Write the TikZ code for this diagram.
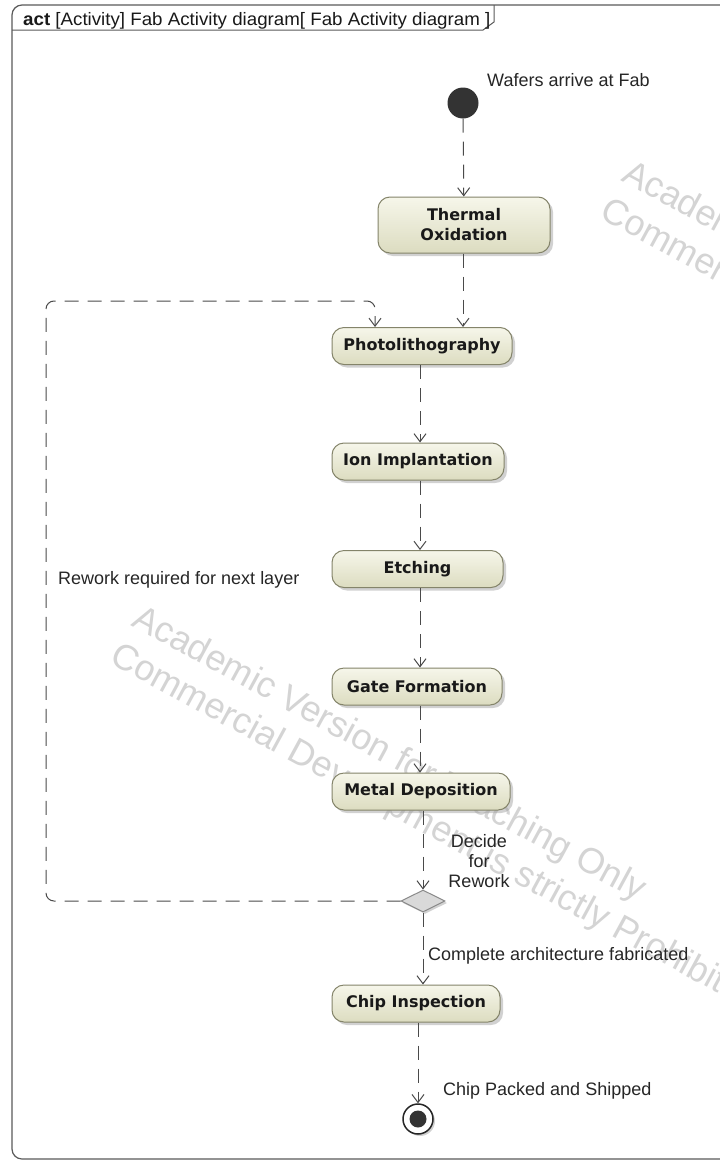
\documentclass[tikz,border=0pt]{standalone}
\usepackage{fontspec}
\usepackage{graphicx}
\setmainfont{Liberation Sans}
\newfontfamily\dejavu{DejaVu Sans}
\usetikzlibrary{arrows.meta,shapes.geometric,shadows}
\definecolor{boxtop}{HTML}{F6F6EA}
\definecolor{boxbot}{HTML}{DCDCC0}
\definecolor{boxline}{HTML}{84846A}
\definecolor{linecol}{HTML}{4A4A4A}
\definecolor{framecol}{HTML}{5A5A5A}
\definecolor{darkdot}{HTML}{333333}
\definecolor{decfill}{HTML}{D9D9D9}
\definecolor{decline}{HTML}{8A8A8A}
\definecolor{wmcol}{HTML}{D4D4D4}
\tikzset{
  actbox/.style={draw=boxline, line width=1pt, rounded corners=12pt,
    top color=boxtop, bottom color=boxbot,
    drop shadow={shadow xshift=3pt, shadow yshift=-3pt, fill=black!40, opacity=0.45},
    font=\dejavu\bfseries\fontsize{16}{20}\selectfont, align=center,
    inner sep=0pt, text=black!90},
  flow/.style={draw=linecol, line width=1pt, dash pattern=on 14pt off 9pt,
    -{Straight Barb[length=8pt,width=12pt]}},
  lbl/.style={font=\fontsize{18}{20}\selectfont, text=black!85, inner sep=0pt},
  wm/.style={font=\fontsize{36}{40}\selectfont, text=wmcol, inner sep=0pt},
  initnode/.style={circle, fill=darkdot, minimum size=31pt, inner sep=0pt},
  decnode/.style={diamond, draw=decline, fill=decfill, line width=1pt,
    minimum width=44pt, minimum height=22pt, inner sep=0pt, aspect=2,
    drop shadow={shadow xshift=2pt, shadow yshift=-2pt, fill=black!40, opacity=0.45}},
}
\begin{document}
\begin{tikzpicture}[x=1pt,y=-1pt]
\useasboundingbox (0,0) rectangle (720,1162);
\fill[white] (0,0) rectangle (720,1162);

% watermarks
\node[wm, anchor=base west, rotate=-28.5] (wma1) at (130,625) {Academic Version for Teaching Only};
\node[wm, anchor=base west, rotate=-28.5] (wma2) at (108,662) {Commercial Development is strictly Prohibited};
\node[wm, anchor=base west, rotate=-28.5] (wmb1) at (620,180) {Academic Version for Teaching Only};
\node[wm, anchor=base west, rotate=-28.5] (wmb2) at (598,217) {Commercial Development is strictly Prohibited};

% frame
\draw[framecol, line width=1.2pt, rounded corners=10pt] (740,5) -- (12,5) -- (12,1159) -- (740,1159);
\draw[framecol, line width=1pt] (12,30) -- (483,30) -- (494,22) -- (494,5);
\node[anchor=base west, font=\fontsize{18}{20}\selectfont, inner sep=0pt, text=black!90] (title) at (23,25)
  {\scalebox{1.04}[1]{\textbf{act} [Activity] Fab Activity diagram[ Fab Activity diagram ]}};

% nodes
\node[initnode] (init) at (463,103) {};
\node[actbox, minimum width=172pt, minimum height=56pt] (thermal) at (464,225) {Thermal\\Oxidation};
\node[actbox, minimum width=180pt, minimum height=37pt] (photo) at (422,346) {Photolithography};
\node[actbox, minimum width=172pt, minimum height=37pt] (ion) at (418,461.5) {Ion Implantation};
\node[actbox, minimum width=171pt, minimum height=37pt] (etch) at (417.5,569) {Etching};
\node[actbox, minimum width=170pt, minimum height=37pt] (gate) at (417,686.5) {Gate Formation};
\node[actbox, minimum width=178pt, minimum height=37pt] (metal) at (421,791.5) {Metal Deposition};
\node[decnode] (dec) at (423,901) {};
\node[actbox, minimum width=168pt, minimum height=37pt] (chip) at (416,1003.5) {Chip Inspection};
\node[circle, draw=black!85, fill=white, line width=1.5pt, minimum size=30pt, inner sep=0pt,
  drop shadow={shadow xshift=2pt, shadow yshift=-2pt, fill=black!40, opacity=0.45}] (final) at (418,1119) {};
\node[circle, fill=darkdot, minimum size=17pt, inner sep=0pt] (finaldot) at (final.center) {};

% helper coordinates
\coordinate (xa) at (420,0);
\coordinate (xb) at (423,0);
\coordinate (xc) at (418,0);
\coordinate (xt) at (463,0);
\coordinate (c1) at (46,901);
\coordinate (c2) at (46,301);
\coordinate (c3) at (375,301);

% connectors
\draw[flow] (init) -- (thermal);
\draw[flow] (thermal.south -| xt) -- (photo.north -| xt);
\draw[flow] (photo.south -| xa) -- (ion.north -| xa);
\draw[flow] (ion.south -| xa) -- (etch.north -| xa);
\draw[flow] (etch.south -| xa) -- (gate.north -| xa);
\draw[flow] (gate.south -| xa) -- (metal.north -| xa);
\draw[flow] (metal.south -| xb) -- (dec.north);
\draw[flow] (dec.south) -- (chip.north -| xb);
\draw[flow] (chip.south -| xc) -- (final.north);
\draw[flow, rounded corners=8pt] (dec.west) -- (c1) -- (c2) -- (c3) -- (photo.north -| c3);

% labels
\node[lbl, anchor=base west] (lwafer) at (487,86) {Wafers arrive at Fab};
\node[lbl, anchor=base west] (lrework) at (58,584) {Rework required for next layer};
\node[lbl, align=center, anchor=center] (ldecide) at (479,861) {Decide\\for\\Rework};
\node[lbl, anchor=base west] (lcomplete) at (428,960) {Complete architecture fabricated};
\node[lbl, anchor=base west] (lpacked) at (443,1095) {Chip Packed and Shipped};
\end{tikzpicture}
\end{document}
